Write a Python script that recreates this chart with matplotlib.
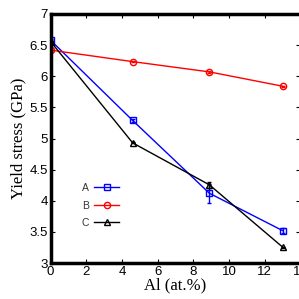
import matplotlib
matplotlib.use("Agg")
import matplotlib.pyplot as plt

al = [0, 4.6, 8.9, 13]
a_vals = [6.58, 5.29, 4.12, 3.52]
a_err = [0.02, 0.02, 0.15, 0.04]
b_vals = [6.42, 6.235, 6.07, 5.84]
b_err = [0.01, 0.01, 0.01, 0.01]
c_vals = [6.56, 4.93, 4.255, 3.255]
c_err = [0.01, 0.01, 0.05, 0.01]
labels = ["A", "B", "C"]
xticks = [0, 2, 4, 6, 8, 10, 12, 14]
yticks = [3, 3.5, 4, 4.5, 5, 5.5, 6, 6.5, 7]

W = 299
fig = plt.figure(figsize=(2.99, 2.99), dpi=100)
l, r, t, b = 50.5, 300.5, 14, 263
ax = fig.add_axes([l / W, 1 - b / W, (r - l) / W, (b - t) / W])

series = [(a_vals, a_err, "#0000ff", "s"), (b_vals, b_err, "#ff0000", "o"),
          (c_vals, c_err, "#000000", "^")]
handles = []
for (vals, err, col, mk), lab in zip(series, labels):
    ax.errorbar(al, vals, yerr=err, color=col, fmt="none", elinewidth=1.0, capsize=1.5)
    h, = ax.plot(al, vals, color=col, marker=mk, ms=4.5, mfc="none",
                 mew=1.0, lw=1.0, label=lab)
    handles.append(h)

ax.set_xlim(0, 14)
ax.set_ylim(3, 7)
ax.set_xticks(xticks)
ax.set_yticks(yticks)
ax.set_xticklabels([str(v) for v in xticks], fontfamily="Liberation Sans", fontsize=9.5)
ax.set_yticklabels([f"{v:g}" for v in yticks], fontfamily="Liberation Sans", fontsize=9.5)
ax.tick_params(direction="in", length=3, width=0.8, top=True, right=True, pad=2)
for s in ["left", "bottom", "top"]:
    ax.spines[s].set_linewidth(2.5)
ax.spines["right"].set_linewidth(1.0)
ax.spines["right"].set_color("#999999")

ax.set_xlabel("Al (at.%)", fontfamily="Liberation Serif", fontsize=12, labelpad=0)
ax.set_ylabel("Yield stress (GPa)", fontfamily="Liberation Serif", fontsize=12, labelpad=2)

leg = ax.legend(handles=handles, loc="upper left", bbox_to_anchor=(0.095, 0.35),
                frameon=False, markerfirst=False, handlelength=2.4,
                labelspacing=0.72, borderpad=0.2,
                prop={"family": "Liberation Sans", "size": 7.5}, handletextpad=0.5)
for txt in leg.get_texts():
    txt.set_color("#333333")

fig.savefig("out.png", dpi=100)
